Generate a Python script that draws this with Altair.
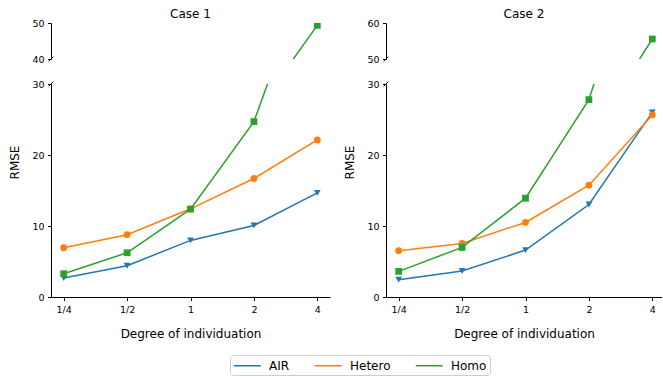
import json
import altair as alt
import pandas as pd

cats = ["1/4", "1/2", "1", "2", "4"]
series = ["AIR", "Hetero", "Homo"]
colors = ["#1f77b4", "#ff7f0e", "#2ca02c"]
shapes = ["triangle-down", "circle", "square"]

case1_air = [2.67, 4.41, 7.97, 10.08, 14.67]
case1_hetero = [6.94, 8.77, 12.42, 16.69, 22.13]
case1_homo = [3.28, 6.23, 12.38, 24.7, 49.35]

case2_air = [2.44, 3.66, 6.61, 13.03, 26.0]
case2_hetero = [6.52, 7.55, 10.5, 15.75, 25.64]
case2_homo = [3.61, 6.98, 13.92, 27.8, 55.56]

case_titles = ["Case 1", "Case 2"]
top_ticks = [[40, 50], [50, 60]]
bottom_ticks = [0, 10, 20, 30]

FONT = "DejaVu Sans"
TOP_H = 36
BOT_H = 213


def make_df(air, het, homo):
    rows = []
    for name, vals in zip(series, [air, het, homo]):
        for i, v in enumerate(vals):
            rows.append({"idx": i, "cat": cats[i], "series": name, "rmse": v})
    return pd.DataFrame(rows)


label_expr = json.dumps(cats) + "[datum.value]"

legend_def = alt.Legend(
    title=None, orient="none", legendX=179, legendY=332, direction="horizontal",
    columns=3, symbolType="M-1,0H3", symbolSize=182, symbolStrokeWidth=1.5,
    labelFont=FONT, labelFontSize=12, labelColor="black", labelOffset=21,
    columnPadding=21, padding=3, strokeColor="#cccccc", cornerRadius=3,
    fillColor="white",
)


def panel(df, xdom, width, height, ydom, yticks, bottom, brk_y, title=None):
    if bottom:
        xaxis = alt.Axis(values=list(range(len(cats))), labelExpr=label_expr,
                         title="Degree of individuation", labelAngle=0,
                         titlePadding=15, grid=False)
        yaxis = alt.Axis(values=yticks, title="RMSE", grid=False,
                         titleX=-37, titleY=78, titleAngle=270,
                         titleBaseline="middle", titleAlign="center")
    else:
        xaxis = None
        yaxis = alt.Axis(values=yticks, title=None, grid=False)
    x = alt.X("idx:Q", scale=alt.Scale(domain=xdom, nice=False, zero=False), axis=xaxis)
    y = alt.Y("rmse:Q", scale=alt.Scale(domain=ydom, nice=False, zero=False), axis=yaxis)
    layers = []
    for s, col, shp in zip(series, colors, shapes):
        d = df[df["series"] == s]
        line = alt.Chart(d).mark_line(clip=True, strokeWidth=1.5).encode(
            x=x, y=y,
            color=alt.Color("series:N", scale=alt.Scale(domain=series, range=colors),
                            legend=legend_def),
            order="idx:Q",
        )
        pts = alt.Chart(d).mark_point(clip=True, filled=True, opacity=1, size=46,
                                      shape=shp, color=col).encode(x=x, y=y)
        layers += [line, pts]
    brk = alt.Chart(pd.DataFrame({"a": [0]})).mark_point(
        shape="M-1,1L1,-1", size=22, filled=False, stroke="black", strokeWidth=1, opacity=1
    ).encode(x=alt.value(0), y=alt.value(brk_y))
    layers.append(brk)
    props = dict(width=width, height=height)
    if title:
        props["title"] = alt.TitleParams(title, anchor="middle", fontSize=12,
                                         fontWeight="normal", font=FONT,
                                         color="black", offset=-3)
    return alt.layer(*layers).properties(**props)


dfs = [make_df(case1_air, case1_hetero, case1_homo),
       make_df(case2_air, case2_hetero, case2_homo)]
widths = [279, 276]
step = 279 / 4.4
xdoms = [[-0.2, 4.2], [-0.2, -0.2 + 276 / step]]
top_doms = [[40, 50], [50, 60]]

tops = [panel(dfs[k], xdoms[k], widths[k], TOP_H, top_doms[k], top_ticks[k],
              False, TOP_H, case_titles[k]) for k in range(2)]
bots = [panel(dfs[k], xdoms[k], widths[k], BOT_H, [0, 30], bottom_ticks,
              True, 0) for k in range(2)]

chart = alt.concat(tops[0], tops[1], bots[0], bots[1], columns=2,
                   spacing={"row": 25, "column": 56}, bounds="flush").resolve_scale(
    color="shared"
).properties(
    padding={"left": 8, "top": 8, "right": 0, "bottom": 0}
).configure_view(stroke=None).configure_axis(
    labelFont=FONT, titleFont=FONT, labelFontSize=9.5, titleFontSize=12,
    titleFontWeight="normal", labelColor="black", titleColor="black",
    domainColor="black", tickColor="black", domainWidth=1, tickWidth=1,
    tickSize=3.5, labelPadding=3.5,
)

chart.save("out.html", embed_options={"renderer": "svg", "actions": False})
